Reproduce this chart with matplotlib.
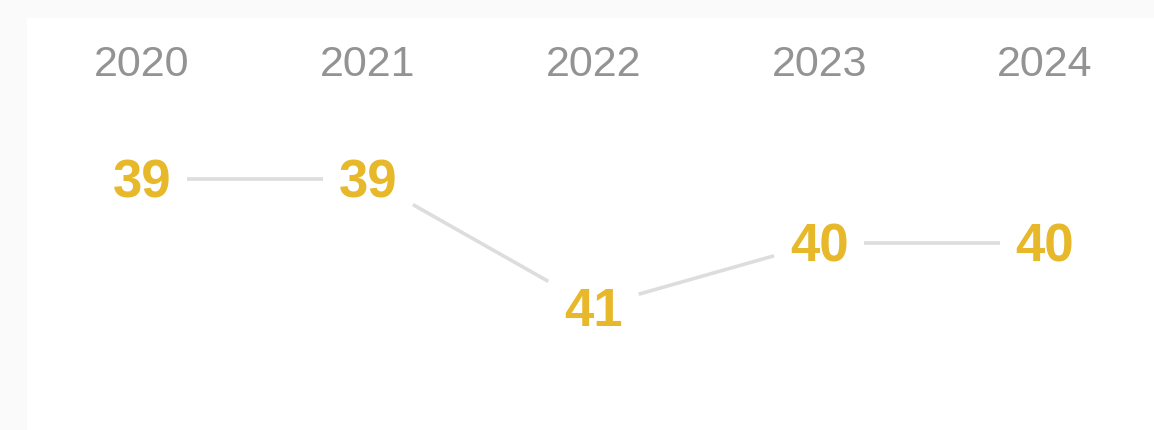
import numpy as np
import matplotlib
matplotlib.use("Agg")
import matplotlib.pyplot as plt
from matplotlib.patches import Rectangle

years = ["2020", "2021", "2022", "2023", "2024"]
ranks = [39, 39, 41, 40, 40]

gold = "#E6B82A"
grey_txt = "#939393"
line_col = "#DDDDDD"

W, H = 1154, 431
fig = plt.figure(figsize=(W / 100, H / 100), dpi=100, facecolor="#FAFAFA")

ax = fig.add_axes([0, 0, 1, 1])
ax.set_facecolor("none")
ax.axis("off")

# white inner panel
ax.add_patch(Rectangle((27 / W, 0), 1 - 27 / W, 1 - 19 / H,
                       transform=ax.transAxes, facecolor="white",
                       edgecolor="none", zorder=0))

px_x = 225.75  # pixels per year
px_y = 64.0    # pixels per rank
ax.set_xlim(-142 / px_x, 4 + (W - 1045) / px_x)
ax.set_ylim(39 + (H - 180) / px_y, 39 - 180 / px_y)

x = np.arange(len(years))
y = np.array(ranks, dtype=float)

# connecting segments, trimmed around the labels
f = 0.2
for i in range(len(x) - 1):
    x0 = x[i] + f * (x[i + 1] - x[i])
    x1 = x[i + 1] - f * (x[i + 1] - x[i])
    y0 = y[i] + f * (y[i + 1] - y[i])
    y1 = y[i + 1] - f * (y[i + 1] - y[i])
    ax.plot([x0, x1], [y0, y1], color=line_col, lw=2.6,
            solid_capstyle="butt", zorder=1)

dy = 4 / px_y  # nudge labels down a bit
for xi, yi in zip(x, y):
    ax.text(xi, yi + dy, str(int(yi)), ha="center", va="center",
            fontsize=38, fontweight="bold", color=gold,
            family="Liberation Sans", zorder=3)

for xi, lab in zip(x, years):
    ax.text(xi, 1 - 65 / H, lab, transform=ax.get_xaxis_transform(),
            ha="center", va="center", fontsize=31, color=grey_txt,
            family="Liberation Sans")

fig.savefig("out.png", dpi=100, facecolor=fig.get_facecolor())
